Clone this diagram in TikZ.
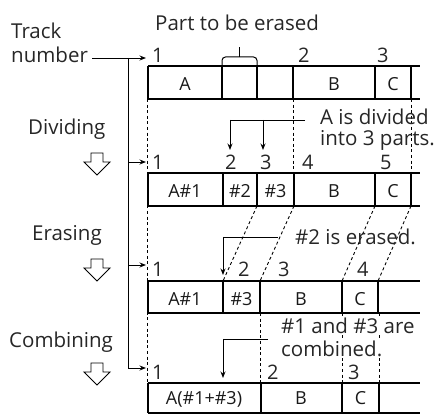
\documentclass[tikz,border=0pt]{standalone}
\usepackage{fontspec}
\setmainfont{Open Sans}
\usetikzlibrary{arrows.meta}
\begin{document}
\begin{tikzpicture}[x=1pt,y=-1pt,
  lbl/.style={font=\fontsize{20.5}{20.5}\selectfont, inner sep=0, anchor=base west, text=black!85},
  num/.style={font=\fontsize{20}{20}\selectfont, inner sep=0, anchor=base west, text=black!85},
  cell/.style={font=\fontsize{18}{18}\selectfont, inner sep=0, anchor=base, text=black!90},
  band/.style={line width=1.1pt},
  tdiv/.style={line width=2.4pt},
  ndiv/.style={line width=1.1pt},
  dsh/.style={line width=0.9pt, dash pattern=on 3pt off 2.6pt},
  arr/.style={line width=0.9pt, -{Stealth[length=6.5pt,width=5pt]}},
  hol/.style={line width=0.9pt, line join=miter}
]
\useasboundingbox (0,0) rectangle (437,414);

% ---------- left labels ----------
\node[lbl] (track) at (11,39) {Track};
\node[lbl] (number) at (11,63) {number};
\node[lbl] (dividing) at (28,135) {Dividing};
\node[lbl] (erasing) at (32,241) {Erasing};
\node[lbl] (combining) at (9,348) {Combining};

% hollow arrows
\foreach \dy in {0,106,210}{
  \draw[hol] (91,153+\dy) -- (103,153+\dy) -- (103,162+\dy) -- (110,162+\dy)
     -- (97,175+\dy) -- (84,162+\dy) -- (91,162+\dy) -- cycle;
}

% track-number connector and feeder line
\coordinate (tnA) at (92,58);
\coordinate (spT) at (128,58);
\coordinate (spB) at (128,368);
\coordinate (in1) at (146,58);
\coordinate (sp2) at (128,162);
\coordinate (in2) at (146,162);
\coordinate (sp3) at (128,265);
\coordinate (in3) at (146,265);
\coordinate (in4) at (146,368);
\draw[arr] (tnA) -- (in1);
\draw[line width=0.9pt] (spT) -- (spB);
\draw[arr] (sp2) -- (in2);
\draw[arr] (sp3) -- (in3);
\draw[arr] (spB) -- (in4);

% left dashed guide
\coordinate (lgT) at (147.5,99);
\coordinate (lgB) at (147.5,383);
\draw[dsh] (lgT) -- (lgB);

% ---------- top text ----------
\node[lbl] (part) at (155,31) {Part to be erased};
\draw[line width=1pt, rounded corners=3.5pt] (222,66) -- (222,57) -- (257,57) -- (257,66);
\coordinate (brS) at (239.5,57);
\coordinate (brT) at (239.5,47);
\draw[line width=1pt] (brS) -- (brT);

% ---------- row 1 ----------
\draw[band] (148,66) -- (420,66) (148,99) -- (420,99);
\foreach \x in {148,293,375,411} \draw[tdiv] (\x,66) -- (\x,99);
\foreach \x in {222,257} \draw[ndiv] (\x,66) -- (\x,99);
\node[num] (r1n1) at (152,63) {1};
\node[num] (r1n2) at (298,63) {2};
\node[num] (r1n3) at (377,63) {3};
\node[cell] (r1a) at (185,91) {A};
\node[cell] (r1b) at (334,91) {B};
\node[cell] (r1c) at (393,91) {C};

% dashed links row1 -> row2
\draw[dsh] (293,99) -- (293,173);
\draw[dsh] (411,99) -- (411,173);

% dividing annotation
\node[lbl] (div1) at (320,125) {A is divided};
\node[lbl] (div2) at (320,146) {into 3 parts.};
\coordinate (dvR) at (305,120);
\coordinate (dvL) at (230,120);
\coordinate (dvM) at (263,120);
\coordinate (dvLe) at (230,150);
\coordinate (dvMe) at (263,150);
\draw[line width=0.9pt] (dvR) -- (dvL);
\draw[arr] (dvL) -- (dvLe);
\draw[arr] (dvM) -- (dvMe);

% ---------- row 2 ----------
\draw[band] (148,173) -- (420,173) (148,206) -- (420,206);
\foreach \x in {148,223,257,294,375,411} \draw[tdiv] (\x,173) -- (\x,206);
\node[num] (r2n1) at (152,170) {1};
\node[num] (r2n2) at (225,170) {2};
\node[num] (r2n3) at (260,170) {3};
\node[num] (r2n4) at (302,170) {4};
\node[num] (r2n5) at (380,170) {5};
\node[cell] (r2a) at (185,198) {A\#1};
\node[cell] (r2b) at (240,198) {\#2};
\node[cell] (r2c) at (275.5,198) {\#3};
\node[cell] (r2d) at (334,198) {B};
\node[cell] (r2e) at (393,198) {C};

% slanted dashed links row2 -> row3
\draw[dsh] (257,206) -- (223,281);
\draw[dsh] (294,206) -- (260,281);
\draw[dsh] (375,206) -- (342,281);
\draw[dsh] (411,206) -- (378,281);

% erasing annotation
\node[lbl] (era) at (295,245) {\#2 is erased.};
\coordinate (erR) at (278,237);
\coordinate (erL) at (223,237);
\coordinate (erE) at (223,275);
\draw[line width=0.9pt] (erR) -- (erL);
\draw[arr] (erL) -- (erE);

% ---------- row 3 ----------
\draw[band] (148,281) -- (420,281) (148,313) -- (420,313);
\foreach \x in {148,223,260,342,378} \draw[tdiv] (\x,281) -- (\x,313);
\node[num] (r3n1) at (152,277) {1};
\node[num] (r3n2) at (238,277) {2};
\node[num] (r3n3) at (278,277) {3};
\node[num] (r3n4) at (357,277) {4};
\node[cell] (r3a) at (185,306) {A\#1};
\node[cell] (r3b) at (241.5,306) {\#3};
\node[cell] (r3c) at (301,306) {B};
\node[cell] (r3d) at (360,306) {C};

% dashed links row3 -> row4
\draw[dsh] (260,313) -- (260,383);
\draw[dsh] (342,313) -- (342,383);
\draw[dsh] (379,313) -- (379,383);

% combining annotation
\node[lbl, fill=white, inner sep=1pt] (com1) at (280,334) {\#1 and \#3 are};
\node[lbl, fill=white, inner sep=1pt] (com2) at (280,357) {combined.};
\coordinate (coR) at (268,339);
\coordinate (coL) at (223,339);
\coordinate (coE) at (223,378);
\draw[line width=0.9pt] (coR) -- (coL);
\draw[arr] (coL) -- (coE);

% ---------- row 4 ----------
\draw[band] (148,383) -- (420,383) (148,413) -- (420,413);
\foreach \x in {148,261,342,379} \draw[tdiv] (\x,383) -- (\x,413);
\node[num] (r4n1) at (152,380) {1};
\node[num] (r4n2) at (267,380) {2};
\node[num] (r4n3) at (348,380) {3};
\node[cell] (r4a) at (204,405) {A(\#1+\#3)};
\node[cell] (r4b) at (301,405) {B};
\node[cell] (r4c) at (360.5,405) {C};
\end{tikzpicture}
\end{document}
